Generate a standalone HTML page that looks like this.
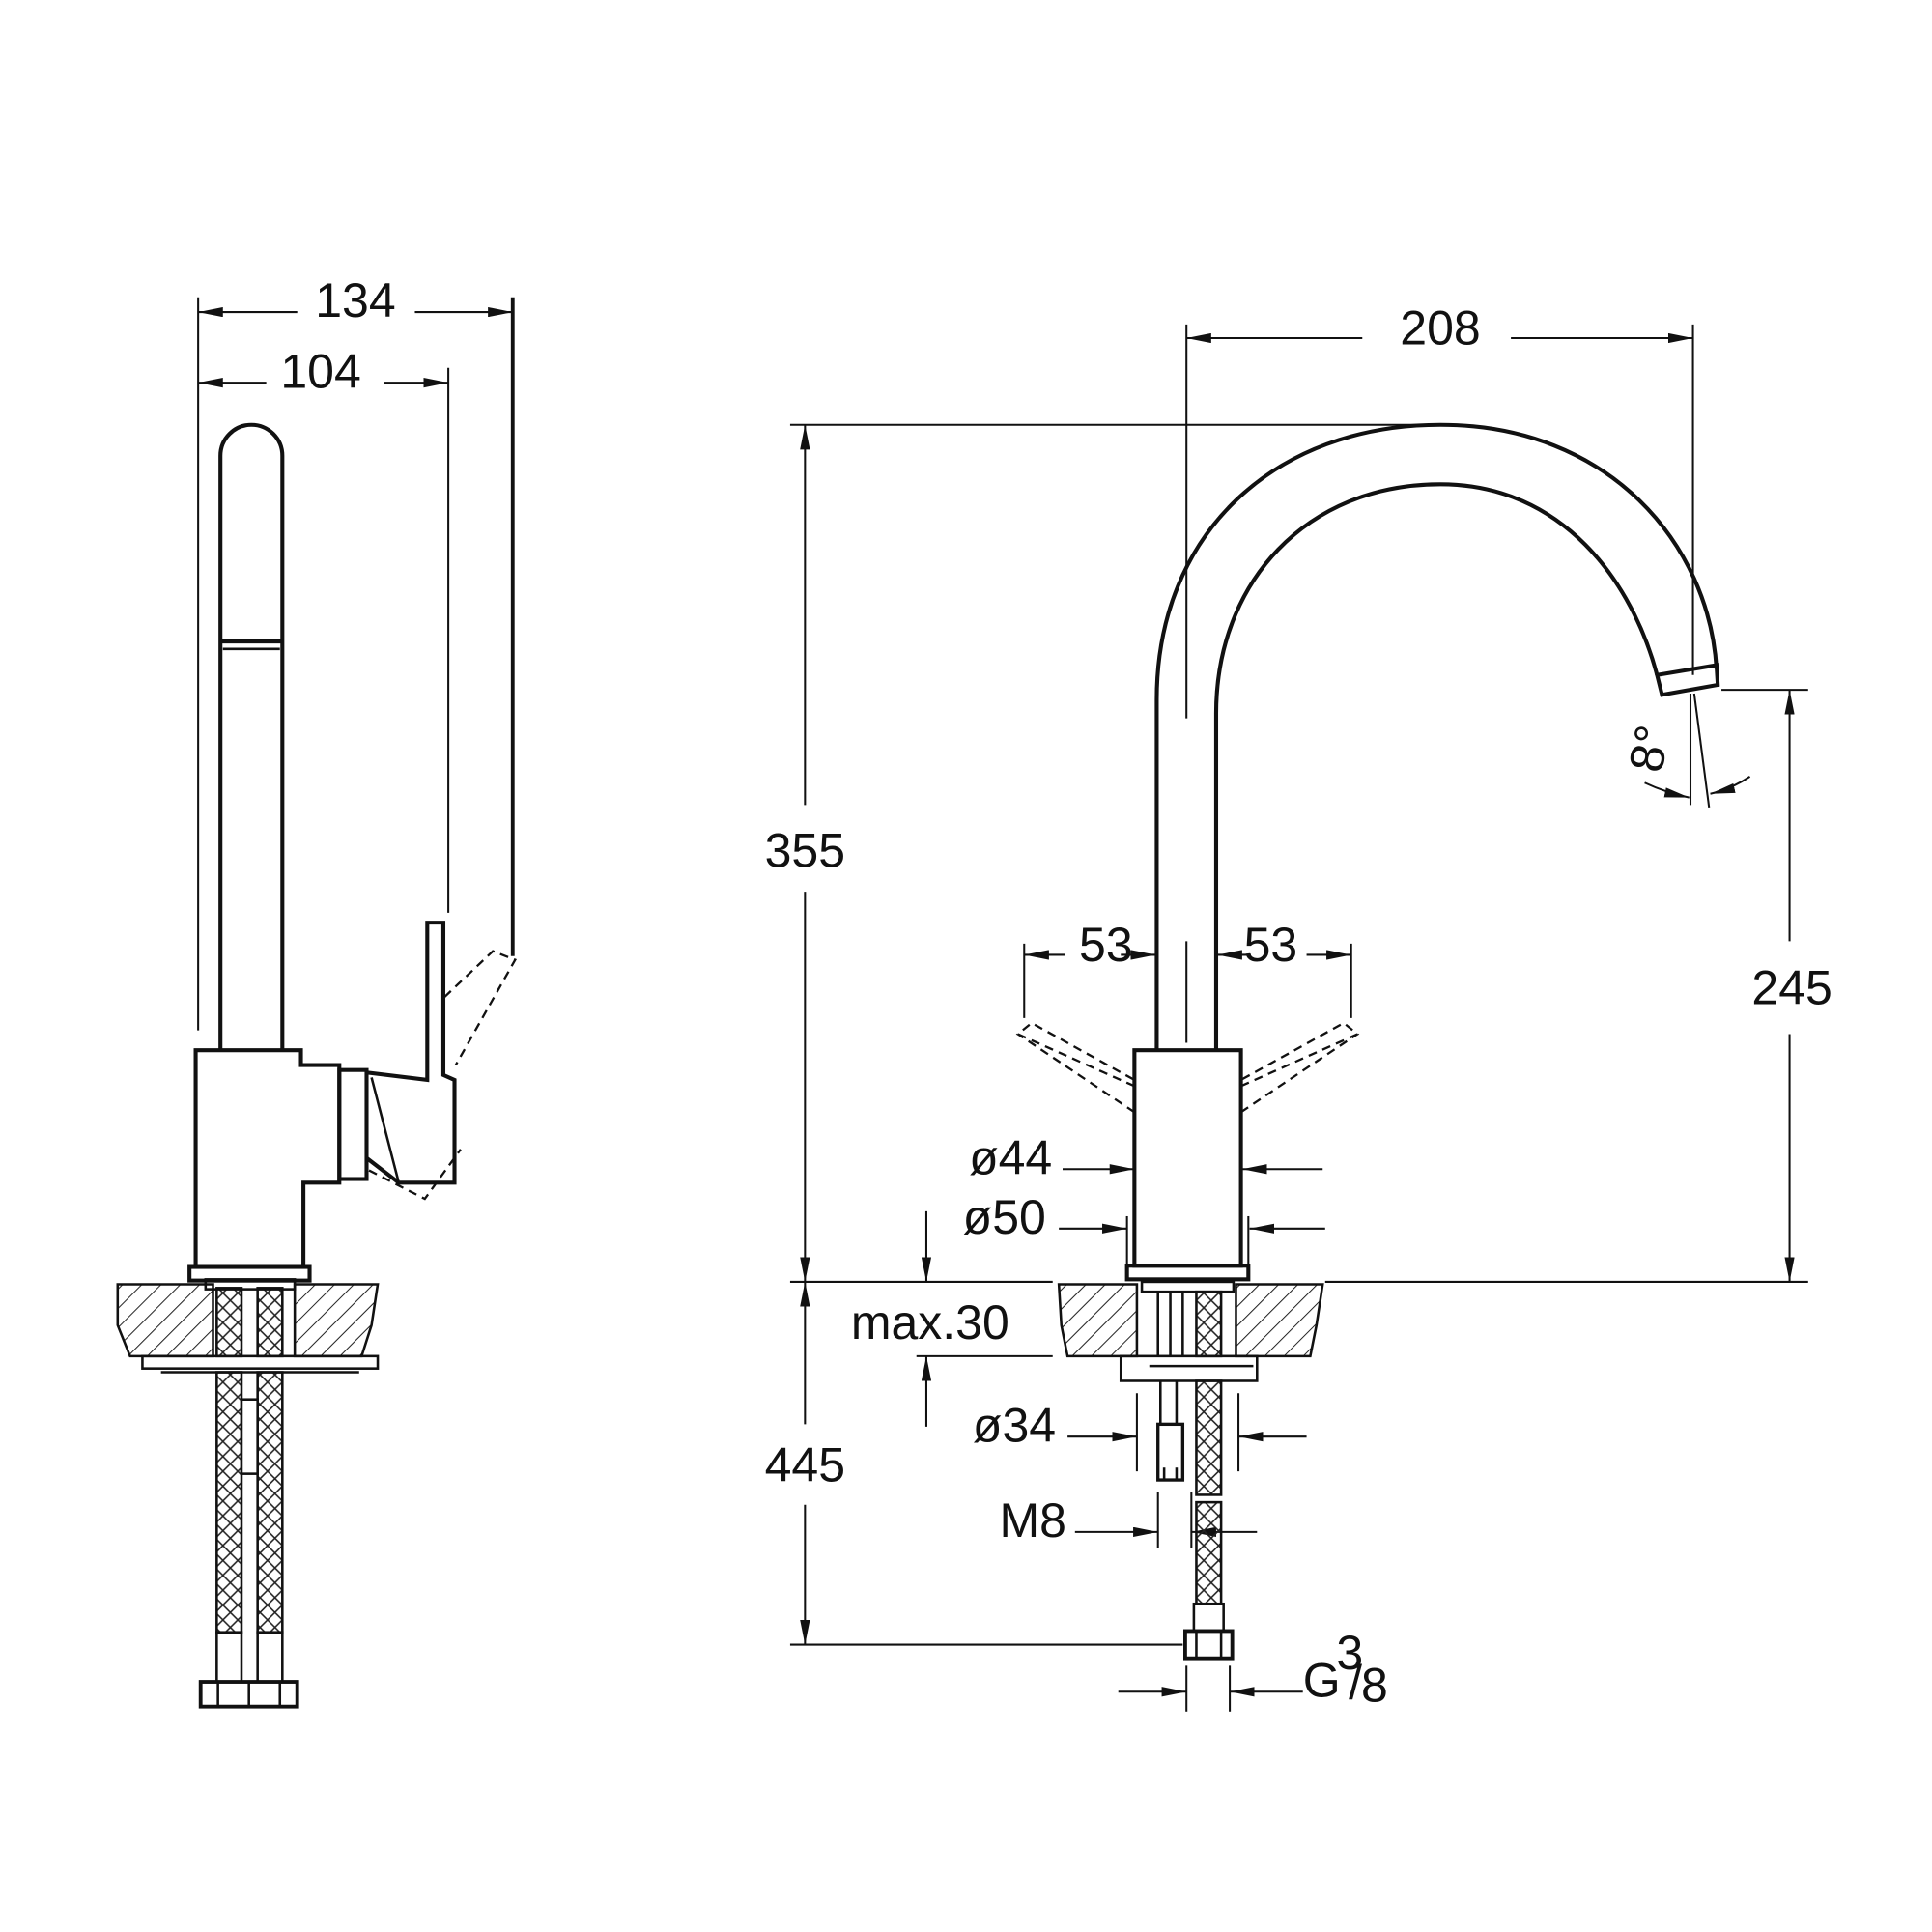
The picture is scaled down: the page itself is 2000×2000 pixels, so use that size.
<!DOCTYPE html>
<html><head><meta charset="utf-8"><style>
html,body{margin:0;padding:0;background:#fff;}
svg{display:block;}
text{font-family:"Liberation Sans","DejaVu Sans",sans-serif;font-size:39px;fill:#111;}
</style></head><body>
<svg width="2000" height="2000" viewBox="0 0 1560 1560" xmlns="http://www.w3.org/2000/svg">
<defs>
<marker id="a" viewBox="0 0 20 8" refX="20" refY="4" markerWidth="20" markerHeight="8" markerUnits="userSpaceOnUse" orient="auto"><path d="M0,0 L20,4 L0,8 z" fill="#111"/></marker>
<pattern id="h" width="11" height="11" patternUnits="userSpaceOnUse" patternTransform="rotate(45)"><line x1="0" y1="0" x2="0" y2="11" stroke="#222" stroke-width="1.6"/></pattern>
<pattern id="x" width="12" height="12" patternUnits="userSpaceOnUse"><path d="M0,0 L12,12 M12,0 L0,12" stroke="#222" stroke-width="1.2"/></pattern>
</defs>
<g fill="none" stroke="#111">
<g stroke-width="1.6">
<line x1="160" y1="240" x2="160" y2="832"/>
<line x1="414" y1="240" x2="414" y2="772" stroke-width="3"/>
<line x1="362" y1="297" x2="362" y2="737"/>
<line x1="240" y1="252" x2="160" y2="252" marker-end="url(#a)"/>
<line x1="335" y1="252" x2="414" y2="252" marker-end="url(#a)"/>
<line x1="215" y1="309" x2="160" y2="309" marker-end="url(#a)"/>
<line x1="310" y1="309" x2="362" y2="309" marker-end="url(#a)"/>
</g>
<g stroke-width="3.2">
<path d="M178,848 V368 A25,25 0 0 1 228,368 V848"/>
<line x1="178" y1="518" x2="228" y2="518"/><line x1="180" y1="524" x2="226" y2="524" stroke-width="2"/>
<path d="M158,1023 V848 H243 V860 H274 V955 H245 V1023"/>
<rect x="274" y="864" width="22" height="88"/>
<path d="M296,866 L345,872 V745 H358 V868 L367,872 V955 H322 L296,935"/>
<path d="M300,870 L322,955" stroke-width="2"/>
<rect x="153" y="1023" width="97" height="11"/>
</g>
<g stroke-width="1.8" stroke-dasharray="7,5">
<path d="M359,805 L398,768 L416,775 L368,860"/>
<path d="M298,945 L343,968 L372,928"/>
</g>
<g stroke-width="2">
<path d="M95,1037 H172 V1095 H105 L95,1070 Z" fill="url(#h)"/>
<path d="M238,1037 H305 L300,1070 L292,1095 H238 Z" fill="url(#h)"/>
<rect x="175" y="1040" width="20" height="55" fill="url(#x)"/>
<rect x="208" y="1040" width="20" height="55" fill="url(#x)"/>
<rect x="166" y="1033" width="72" height="8"/>
<rect x="115" y="1095" width="190" height="10"/>
<line x1="130" y1="1108" x2="290" y2="1108"/>
<rect x="175" y="1108" width="20" height="210" fill="url(#x)"/>
<rect x="208" y="1108" width="20" height="210" fill="url(#x)"/>
<rect x="195" y="1130" width="13" height="60" fill="#fff"/>
<rect x="175" y="1318" width="20" height="40"/><rect x="208" y="1318" width="20" height="40"/>
<rect x="162" y="1358" width="78" height="20" stroke-width="3"/>
<line x1="176" y1="1358" x2="176" y2="1378"/><line x1="201" y1="1358" x2="201" y2="1378"/><line x1="226" y1="1358" x2="226" y2="1378"/>
</g>

<g stroke-width="1.6">
<line x1="958" y1="262" x2="958" y2="580"/>
<line x1="958" y1="760" x2="958" y2="842"/>
<line x1="1367" y1="262" x2="1367" y2="545"/>
<line x1="1100" y1="273" x2="958" y2="273" marker-end="url(#a)"/>
<line x1="1220" y1="273" x2="1367" y2="273" marker-end="url(#a)"/>
<line x1="638" y1="343" x2="1165" y2="343"/>
<line x1="650" y1="650" x2="650" y2="343" marker-end="url(#a)"/>
<line x1="650" y1="720" x2="650" y2="1035" marker-end="url(#a)"/>
<line x1="638" y1="1035" x2="850" y2="1035"/>
<line x1="1070" y1="1035" x2="1460" y2="1035"/>
<line x1="650" y1="1150" x2="650" y2="1035" marker-end="url(#a)"/>
<line x1="650" y1="1215" x2="650" y2="1328" marker-end="url(#a)"/>
<line x1="638" y1="1328" x2="955" y2="1328"/>
<line x1="1390" y1="557" x2="1460" y2="557"/>
<line x1="1445" y1="760" x2="1445" y2="557" marker-end="url(#a)"/>
<line x1="1445" y1="835" x2="1445" y2="1035" marker-end="url(#a)"/>
<line x1="1365" y1="560" x2="1365" y2="650"/>
<line x1="1368" y1="560" x2="1380" y2="652"/>
<path d="M1328,632 Q1345,640 1364,644" marker-end="url(#a)"/>
<path d="M1413,627 Q1398,637 1381,641" marker-end="url(#a)"/>
<line x1="827" y1="762" x2="827" y2="822"/>
<line x1="1091" y1="762" x2="1091" y2="822"/>
<line x1="860" y1="771" x2="827" y2="771" marker-end="url(#a)"/>
<line x1="905" y1="771" x2="933" y2="771" marker-end="url(#a)"/>
<line x1="1010" y1="771" x2="983" y2="771" marker-end="url(#a)"/>
<line x1="1055" y1="771" x2="1091" y2="771" marker-end="url(#a)"/>
<line x1="858" y1="944" x2="916" y2="944" marker-end="url(#a)"/>
<line x1="1068" y1="944" x2="1003" y2="944" marker-end="url(#a)"/>
<line x1="855" y1="992" x2="910" y2="992" marker-end="url(#a)"/>
<line x1="1070" y1="992" x2="1009" y2="992" marker-end="url(#a)"/>
<line x1="910" y1="982" x2="910" y2="1022"/><line x1="1008" y1="982" x2="1008" y2="1022"/>
<line x1="748" y1="978" x2="748" y2="1035" marker-end="url(#a)"/>
<line x1="740" y1="1095" x2="850" y2="1095"/>
<line x1="748" y1="1152" x2="748" y2="1095" marker-end="url(#a)"/>
<line x1="918" y1="1125" x2="918" y2="1188"/><line x1="1000" y1="1125" x2="1000" y2="1188"/>
<line x1="862" y1="1160" x2="918" y2="1160" marker-end="url(#a)"/>
<line x1="1055" y1="1160" x2="1000" y2="1160" marker-end="url(#a)"/>
<line x1="935" y1="1205" x2="935" y2="1250"/><line x1="962" y1="1205" x2="962" y2="1250"/>
<line x1="868" y1="1237" x2="935" y2="1237" marker-end="url(#a)"/>
<line x1="1015" y1="1237" x2="962" y2="1237" marker-end="url(#a)"/>
<line x1="958" y1="1345" x2="958" y2="1382"/><line x1="993" y1="1345" x2="993" y2="1382"/>
<line x1="903" y1="1366" x2="958" y2="1366" marker-end="url(#a)"/>
<line x1="1052" y1="1366" x2="993" y2="1366" marker-end="url(#a)"/>
</g>
<g stroke-width="3.2">
<path d="M934,848 V565 C934,430 1030,343 1163,343 C1300,343 1380,440 1386,540"/>
<path d="M982,848 V576 C982,470 1055,391 1163,391 C1262,391 1318,470 1338,545"/>
<path d="M1338,545 L1386,537 L1387,553 L1342,561 Z"/>
<rect x="916" y="848" width="86" height="174"/>
<rect x="910" y="1022" width="98" height="11"/>
</g>
<g stroke-width="1.8" stroke-dasharray="7,5">
<path d="M916,877 L822,835 L833,826 L916,872"/>
<path d="M916,898 L822,835"/>
<path d="M1002,877 L1096,835 L1085,826 L1002,872"/>
<path d="M1002,898 L1096,835"/>
</g>
<g stroke-width="2">
<path d="M855,1037 H918 V1095 H862 L857,1070 Z" fill="url(#h)"/>
<path d="M998,1037 H1068 L1063,1070 L1058,1095 H998 Z" fill="url(#h)"/>
<rect x="922" y="1035" width="74" height="8"/>
<line x1="935" y1="1043" x2="935" y2="1095"/><line x1="945" y1="1043" x2="945" y2="1095"/><line x1="955" y1="1043" x2="955" y2="1095"/>
<rect x="966" y="1043" width="20" height="52" fill="url(#x)"/>
<rect x="905" y="1095" width="110" height="20"/>
<line x1="928" y1="1103" x2="1012" y2="1103"/>
<line x1="937" y1="1115" x2="937" y2="1150"/><line x1="950" y1="1115" x2="950" y2="1150"/>
<rect x="935" y="1150" width="20" height="45" stroke-width="2.6"/>
<line x1="940" y1="1185" x2="940" y2="1195"/><line x1="950" y1="1185" x2="950" y2="1195"/>
<rect x="966" y="1115" width="20" height="92" fill="url(#x)"/>
<rect x="966" y="1213" width="20" height="82" fill="url(#x)"/>
<rect x="964" y="1295" width="24" height="22"/>
<rect x="957" y="1317" width="38" height="22" stroke-width="3"/>
<line x1="966" y1="1317" x2="966" y2="1339"/><line x1="986" y1="1317" x2="986" y2="1339"/>
</g>
</g>
<g text-anchor="middle">
<text x="287" y="256">134</text>
<text x="259" y="313">104</text>
<text x="1163" y="278">208</text>
<text x="650" y="700">355</text>
<text x="1447" y="811">245</text>
<text x="650" y="1196">445</text>
<text x="893" y="776">53</text>
<text x="1026" y="776">53</text>
<text x="816" y="948">ø44</text>
<text x="811" y="996">ø50</text>
<text x="751" y="1081">max.30</text>
<text x="819" y="1164">ø34</text>
<text x="834" y="1241">M8</text>
<text x="1335" y="615" transform="rotate(-80 1335 605)" font-size="34">8°</text>
</g>
<text x="1052" y="1370">G</text>
<text x="1079" y="1348" font-size="26">3</text>
<text x="1089" y="1372" font-size="36">/</text>
<text x="1099" y="1374" font-size="34">8</text>
</svg>
</body></html>
